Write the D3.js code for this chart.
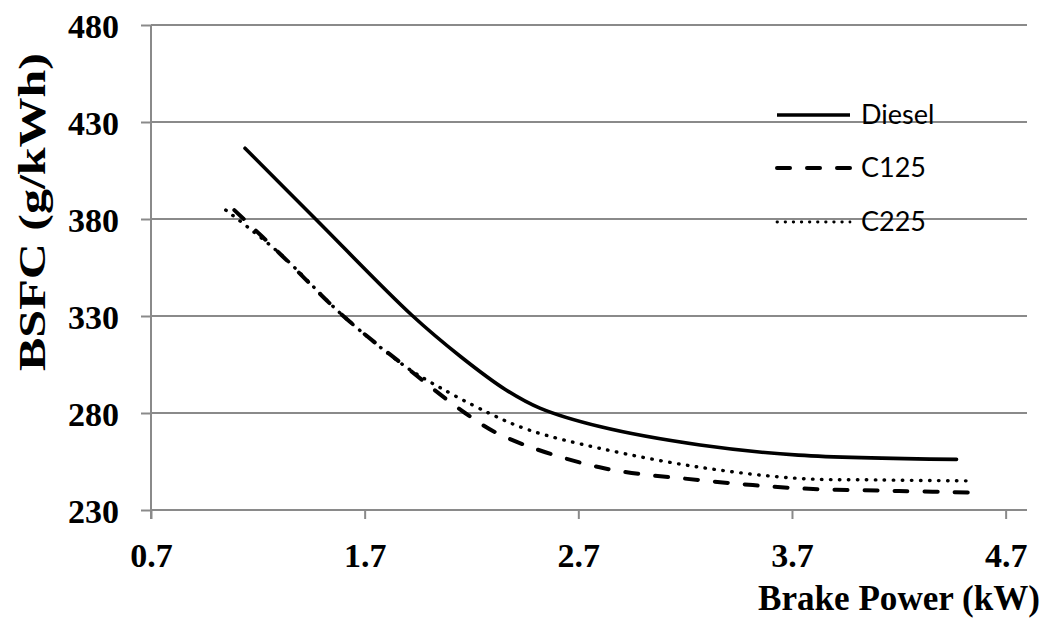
<!DOCTYPE html>
<html>
<head>
<meta charset="utf-8">
<script src="https://cdn.jsdelivr.net/npm/d3@7"></script>
<style>
  html, body { margin: 0; padding: 0; background: #fff; }
  svg { display: block; }
</style>
</head>
<body>
<svg id="chart" width="1046" height="618"></svg>
<script>
// ---- data ----
const seriesNames = ["Diesel", "C125", "C225"];

const dieselX = [1.14, 1.47, 1.92, 2.15, 2.36, 2.52, 2.80, 3.27, 3.73, 4.47];
const dieselY = [416.5, 380, 330.5, 309, 292, 282.5, 273, 263.5, 258.3, 256.1];

const c125X = [1.09, 1.30, 1.60, 1.89, 2.17, 2.35, 2.80, 3.27, 3.73, 4.20, 4.60];
const c125Y = [384.6, 362.5, 330, 304, 280, 268, 252, 245.4, 241.2, 239.8, 238.9];

const c225X = [1.05, 1.30, 1.60, 1.89, 1.99, 2.28, 2.47, 2.80, 3.27, 3.73, 4.10, 4.55];
const c225Y = [384.6, 362.5, 330, 304, 297, 280, 271.2, 261.8, 252, 246.3, 245.5, 245];

const xTicks = [0.7, 1.7, 2.7, 3.7, 4.7];
const yTicks = [230, 280, 330, 380, 430, 480];

const xTitle = "Brake Power (kW)";
const yTitle = "BSFC (g/kWh)";

// ---- layout ----
const svg = d3.select("#chart");
const plotLeft = 151, plotRight = 1027, plotTop = 25, plotBottom = 510;

const x = d3.scaleLinear().domain([0.7, 4.8]).range([plotLeft, plotRight]);
const y = d3.scaleLinear().domain([230, 480]).range([plotBottom, plotTop]);

const gridColor = "#8a8a8a";
const serif = "'Liberation Serif', 'Times New Roman', serif";

// gridlines
svg.append("g")
  .selectAll("line")
  .data(yTicks)
  .join("line")
  .attr("x1", plotLeft).attr("x2", plotRight)
  .attr("y1", d => y(d)).attr("y2", d => y(d))
  .attr("stroke", gridColor).attr("stroke-width", 2);

// y axis
const yAxis = svg.append("g")
  .attr("transform", `translate(${plotLeft},0)`)
  .call(d3.axisLeft(y).tickValues(yTicks).tickSize(10).tickPadding(22).tickFormat(d3.format("d")));
yAxis.select(".domain").attr("stroke", gridColor).attr("stroke-width", 2)
  .attr("d", `M0,${plotTop}V${plotBottom + 9}`);
yAxis.selectAll(".tick line").attr("stroke", gridColor).attr("stroke-width", 2);
yAxis.selectAll(".tick text")
  .attr("font-family", serif).attr("font-weight", "bold").attr("font-size", 34)
  .attr("fill", "#000").attr("dy", "0.38em");

// x axis
const xAxis = svg.append("g")
  .attr("transform", `translate(0,${plotBottom})`)
  .call(d3.axisBottom(x).tickValues(xTicks).tickSize(9).tickPadding(24).tickFormat(d3.format(".1f")));
xAxis.select(".domain").attr("stroke", gridColor).attr("stroke-width", 2)
  .attr("d", `M${plotLeft},0H${plotRight}`);
xAxis.selectAll(".tick line").attr("stroke", gridColor).attr("stroke-width", 2);
xAxis.selectAll(".tick text")
  .attr("font-family", serif).attr("font-weight", "bold").attr("font-size", 34)
  .attr("fill", "#000");

// axis titles
svg.append("text")
  .attr("x", 1040).attr("y", 610)
  .attr("text-anchor", "end")
  .attr("font-family", serif).attr("font-weight", "bold").attr("font-size", 35)
  .attr("textLength", 282).attr("lengthAdjust", "spacingAndGlyphs")
  .text(xTitle);

svg.append("text")
  .attr("transform", "translate(45,212) rotate(-90)")
  .attr("text-anchor", "middle")
  .attr("font-family", serif).attr("font-weight", "bold").attr("font-size", 38)
  .attr("textLength", 318).attr("lengthAdjust", "spacingAndGlyphs")
  .text(yTitle);

// series
const styles = {
  Diesel: { dash: null, width: 3.6, cap: "round" },
  C125:   { dash: "13,17", width: 4, cap: "round" },
  C225:   { dash: "0.5,8.5", width: 3.4, cap: "round" }
};
const series = [
  { name: "Diesel", xs: dieselX, ys: dieselY },
  { name: "C125", xs: c125X, ys: c125Y },
  { name: "C225", xs: c225X, ys: c225Y }
];

const line = d3.line()
  .x(d => x(d[0])).y(d => y(d[1]))
  .curve(d3.curveCatmullRom.alpha(0.5));

svg.append("g")
  .selectAll("path")
  .data(series)
  .join("path")
  .attr("d", s => line(s.xs.map((v, i) => [v, s.ys[i]])))
  .attr("fill", "none")
  .attr("stroke", "#000")
  .attr("stroke-width", s => styles[s.name].width)
  .attr("stroke-linecap", s => styles[s.name].cap)
  .attr("stroke-dasharray", s => styles[s.name].dash);

// legend
const legendY = [115, 168, 222];
const lg = svg.append("g");
seriesNames.forEach((n, i) => {
  lg.append("line")
    .attr("x1", 777).attr("x2", 850)
    .attr("y1", legendY[i]).attr("y2", legendY[i])
    .attr("stroke", "#000")
    .attr("stroke-width", n === "C225" ? 2.8 : styles[n].width)
    .attr("stroke-linecap", n === "Diesel" ? "butt" : "round")
    .attr("stroke-dasharray", n === "C125" ? "13,17" : (n === "C225" ? "0.5,7.6" : null));
  lg.append("text")
    .attr("x", 861).attr("y", legendY[i] + 9)
    .attr("font-family", "Lato, 'Open Sans', sans-serif")
    .attr("font-size", 27)
    .attr("fill", "#000")
    .text(n);
});
</script>
</body>
</html>
